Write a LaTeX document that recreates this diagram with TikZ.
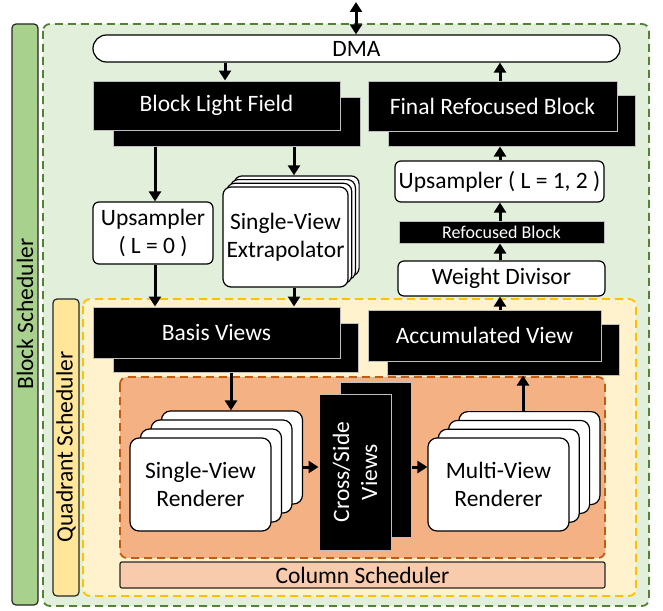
\documentclass[tikz,border=0pt]{standalone}
\usepackage{fontspec}
\setmainfont{Carlito}
\usetikzlibrary{arrows.meta,calc}

\definecolor{blockbar}{HTML}{A9D18E}
\definecolor{greenfill}{HTML}{E2EFDA}
\definecolor{greenline}{HTML}{548235}
\definecolor{quadbar}{HTML}{FFE699}
\definecolor{yellowfill}{HTML}{FFF2CC}
\definecolor{yellowline}{HTML}{FFC000}
\definecolor{orangefill}{HTML}{F4B183}
\definecolor{orangeline}{HTML}{C55A11}
\definecolor{colbar}{HTML}{F8CBAD}
\definecolor{edgegray}{HTML}{BFBFBF}

\newcommand{\bigfs}{\fontsize{23.5}{28}\selectfont}
\newcommand{\smallfs}{\fontsize{18}{20}\selectfont}

\tikzset{
  schedbar/.style={draw=black!85, line width=1.2pt, rounded corners=4pt},
  region/.style={line width=1.8pt, dash pattern=on 8pt off 5pt, rounded corners=7pt},
  wbox/.style={draw=black, fill=white, line width=1.2pt, rounded corners=6pt,
    inner sep=0pt, align=center, font=\bigfs},
  stackbox/.style={wbox, rounded corners=9pt},
  bbox/.style={draw=edgegray, fill=black, text=white, line width=1pt,
    inner sep=0pt, align=center, font=\bigfs},
  lbl/.style={inner sep=0pt, font=\bigfs},
  arr/.style={line width=3pt, -{Triangle[width=12pt,length=10pt]}},
  darr/.style={line width=3pt, {Triangle[width=12pt,length=10pt]}-{Triangle[width=12pt,length=10pt]}}
}

\begin{document}
\begin{tikzpicture}[x=1pt,y=-1pt]
\useasboundingbox (0,0) rectangle (663,610);

% scheduler regions
\draw[schedbar, fill=blockbar] (12,24) rectangle (38,605);
\node[lbl, rotate=90] (blocklbl) at (25,314) {Block Scheduler};
\draw[region, draw=greenline, fill=greenfill] (43,24) rectangle (649,606);

\draw[schedbar, fill=quadbar] (53,299) rectangle (79,596);
\node[lbl, rotate=90] (quadlbl) at (66,447) {Quadrant Scheduler};
\draw[region, draw=yellowline, fill=yellowfill] (83,299) rectangle (636,596);

\draw[region, draw=orangeline, fill=orangefill] (120,377) rectangle (605,558);
\node[draw=black!85, line width=1.2pt, rounded corners=2pt, fill=colbar, inner sep=0pt,
  minimum width=485pt, minimum height=26pt, font=\bigfs] (colsched) at (362.5,575) {Column Scheduler};

% DMA
\node[wbox, rounded corners=13.5pt, minimum width=527pt, minimum height=27pt] (dma) at (356.5,48.5) {DMA};

% block-level buffers
\node[bbox, minimum width=247pt, minimum height=49pt] (blfback) at (236.5,121.5) {};
\node[bbox, minimum width=247pt, minimum height=49pt] (blf) at (216.5,105.5) {Block Light Field};
\node[bbox, minimum width=247pt, minimum height=51pt] (frbback) at (511.5,120.5) {};
\node[bbox, minimum width=249pt, minimum height=50pt] (frb) at (492.5,106) {Final Refocused Block};

\node[wbox, minimum width=120pt, minimum height=62pt] (up0) at (153,233) {Upsampler\\( L = 0 )};

% single-view extrapolator stack
\foreach \k in {3,2,1}
  \node[wbox, rounded corners=8pt, minimum width=125pt, minimum height=100pt] (sve\k) at (285.5+3.7*\k,237-3.7*\k) {};
\node[wbox, rounded corners=8pt, minimum width=125pt, minimum height=100pt] (sve) at (285.5,237) {Single-View\\Extrapolator};

\node[wbox, minimum width=209pt, minimum height=41pt] (up12) at (499.5,181.5) {Upsampler ( L = 1, 2 )};
\node[bbox, font=\smallfs, minimum width=205pt, minimum height=22pt] (rb) at (501.5,232) {Refocused Block};
\node[wbox, minimum width=207pt, minimum height=35pt] (wd) at (501.5,278.5) {Weight Divisor};

% quadrant-level buffers
\node[bbox, minimum width=245pt, minimum height=49pt] (bvback) at (235.5,347.5) {};
\node[bbox, minimum width=247pt, minimum height=51pt] (bv) at (216.5,332.5) {Basis Views};
\node[bbox, minimum width=232pt, minimum height=51pt] (avback) at (503,349.5) {};
\node[bbox, minimum width=233pt, minimum height=51pt] (av) at (484.5,335.5) {Accumulated View};

% column-level renderers
\foreach \k in {3,2,1}
  \node[stackbox, minimum width=141pt, minimum height=93pt] (svr\k) at (200.5+10.5*\k,484.5-9*\k) {};
\node[stackbox, minimum width=141pt, minimum height=93pt] (svr) at (200.5,484.5) {Single-View\\Renderer};

\node[bbox, minimum width=71pt, minimum height=155pt] (csback) at (375.5,459.5) {};
\node[bbox, minimum width=72pt, minimum height=156pt] (cs) at (355,472) {};
\node[lbl, text=white, align=center, rotate=90] (cslbl) at (cs.center) {Cross/Side\\Views};

\foreach \k in {3,2,1}
  \node[stackbox, minimum width=141pt, minimum height=93pt] (mvr\k) at (498.5+10.3*\k,484.5-8.8*\k) {};
\node[stackbox, minimum width=141pt, minimum height=93pt] (mvr) at (498.5,484.5) {Multi-View\\Renderer};

% connectors
\coordinate (ext) at (356,2);
\coordinate (xa) at (225,0);
\coordinate (xb) at (155,0);
\coordinate (xc) at (294,0);
\coordinate (xd) at (500,0);
\coordinate (xe) at (231,0);
\coordinate (xf) at (523,0);
\coordinate (ys) at (0,467);

\draw[darr] (ext) -- (dma.north -| ext);
\draw[arr] (dma.south -| xa) -- (blf.north -| xa);
\draw[arr] (blfback.south -| xb) -- (up0.north -| xb);
\draw[arr] (blfback.south -| xc) -- (sve3.north -| xc);
\draw[arr] (up0.south -| xb) -- (bv.north -| xb);
\draw[arr] (sve.south -| xc) -- (bv.north -| xc);
\draw[arr] (bvback.south -| xe) -- (svr3.north -| xe);
\draw[arr] (svr3.east |- ys) -- (cs.west |- ys);
\draw[arr] (csback.east |- ys) -- (mvr.west |- ys);
\draw[arr] (mvr3.north -| xf) -- (avback.south -| xf);
\draw[arr] (av.north -| xd) -- (wd.south -| xd);
\draw[arr] (wd.north -| xd) -- (rb.south -| xd);
\draw[arr] (rb.north -| xd) -- (up12.south -| xd);
\draw[arr] (up12.north -| xd) -- (frbback.south -| xd);
\draw[arr] (frb.north -| xd) -- (dma.south -| xd);
\end{tikzpicture}
\end{document}
